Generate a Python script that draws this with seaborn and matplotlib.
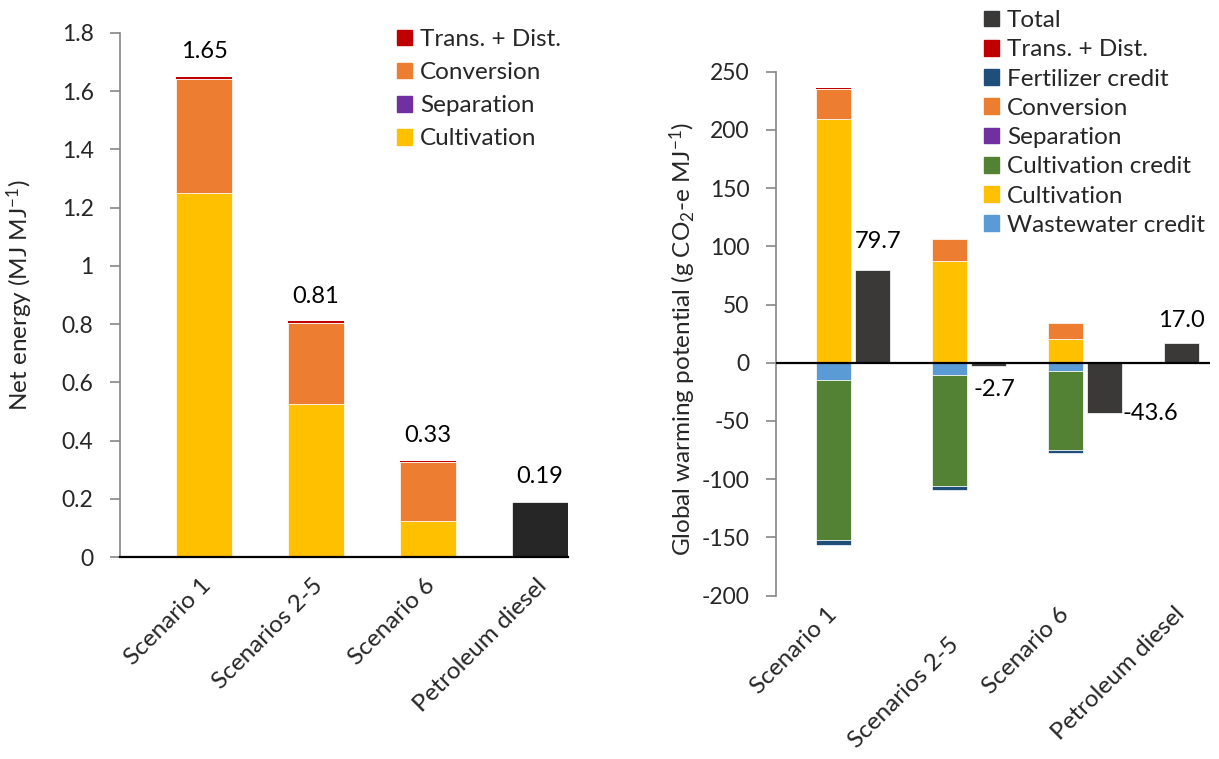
import numpy as np
import matplotlib
matplotlib.use("Agg")
import matplotlib.pyplot as plt
from matplotlib.patches import Patch
from matplotlib.ticker import FuncFormatter, MultipleLocator
import seaborn as sns

# ---- data ----
categories = ["Scenario 1", "Scenarios 2-5", "Scenario 6", "Petroleum diesel"]

# Net energy, MJ per MJ
ne_cultivation = [1.250, 0.525, 0.125, 0.0]
ne_separation = [0.0, 0.0, 0.0, 0.0]
ne_conversion = [0.392, 0.280, 0.200, 0.0]
ne_trans = [0.008, 0.005, 0.005, 0.0]
ne_diesel = [0.0, 0.0, 0.0, 0.19]

# Global warming potential, g CO2-e per MJ
gwp_cultivation = [209.5, 87.5, 20.5, 0.0]
gwp_separation = [0.0, 0.0, 0.0, 0.0]
gwp_conversion = [26.0, 18.5, 13.5, 0.0]
gwp_trans = [0.5, 0.5, 0.4, 0.0]
gwp_wastewater = [-15.0, -10.5, -7.5, 0.0]
gwp_cult_credit = [-137.0, -95.7, -67.5, 0.0]
gwp_fertilizer = [-4.3, -3.0, -3.0, 0.0]
gwp_total = [79.7, -2.7, -43.6, 17.0]

# ---- colours ----
C_TRANS = "#C00000"
C_CONV = "#ED7D31"
C_SEP = "#7030A0"
C_CULT = "#FFC000"
C_TOTAL_L = "#262626"
C_TOTAL_R = "#3B3838"
C_FERT = "#1F4E79"
C_CCRED = "#548235"
C_WW = "#5B9BD5"

sns.set_theme(style="white")
plt.rcParams["font.family"] = ["Lato", "DejaVu Sans"]
plt.rcParams["mathtext.fontset"] = "custom"
plt.rcParams["mathtext.rm"] = "Lato"
plt.rcParams["mathtext.it"] = "Lato:italic"
FS_YTICK = 16.5
FS_XTICK = 17.5
FS_LEG = 17.5
FS_VAL = 17
FS_LAB = 17.5

fig = plt.figure(figsize=(12.19, 7.59), dpi=100)
W, H = 1219, 759
axL = fig.add_axes([120 / W, (H - 557) / H, 448 / W, 524 / H])
axR = fig.add_axes([776 / W, (H - 595.5) / H, 434 / W, 523.8 / H])

edge = dict(edgecolor="white", linewidth=0.5)
no_edge = dict(linewidth=0)


def style_axis(ax):
    for s in ["top", "right"]:
        ax.spines[s].set_visible(False)
    ax.spines["left"].set_color("#868686")
    ax.spines["left"].set_linewidth(1.2)
    ax.tick_params(axis="y", which="major", direction="out", length=7,
                   width=1.2, color="#868686", pad=12, labelsize=FS_YTICK,
                   left=True)
    ax.tick_params(axis="x", length=0, labelsize=FS_XTICK)
    ax.grid(False)


def rotate_labels(ax):
    for lab in ax.get_xticklabels():
        lab.set_rotation(45)
        lab.set_ha("right")
        lab.set_va("center")
        lab.set_rotation_mode("anchor")


# ---- left: net energy ----
xL = np.arange(len(categories))
wL = 0.5
bottom = np.zeros(len(categories))
for vals, col, kw in [(ne_cultivation, C_CULT, edge), (ne_separation, C_SEP, no_edge),
                      (ne_conversion, C_CONV, edge), (ne_trans, C_TRANS, no_edge)]:
    v = np.asarray(vals)
    axL.bar(xL, v, wL, bottom=bottom, color=col, **kw)
    bottom = bottom + v
axL.bar(xL, ne_diesel, wL, color=C_TOTAL_L, **edge)
ne_tot = bottom + np.asarray(ne_diesel)
for x, t in zip(xL, ne_tot):
    axL.annotate(f"{t:.2f}", (x, t), xytext=(0, 25), textcoords="offset pixels",
                 ha="center", va="center", fontsize=FS_VAL, color="black")

axL.set_xlim(-0.75, 3.25)
axL.set_ylim(0, 1.8)
axL.yaxis.set_major_locator(MultipleLocator(0.2))
axL.yaxis.set_major_formatter(FuncFormatter(lambda v, p: f"{round(v, 2):g}"))
style_axis(axL)
axL.spines["bottom"].set_color("black")
axL.spines["bottom"].set_linewidth(1.6)
axL.set_ylabel("Net energy (MJ MJ$^{-1}$)", fontsize=FS_LAB)
axL.yaxis.set_label_coords(-0.19, 0.5)
axL.set_xticks(xL + 0.03)
axL.set_xticklabels(categories)
axL.tick_params(axis="x", pad=18)
rotate_labels(axL)

handlesL = [Patch(color=C_TRANS, label="Trans. + Dist."),
            Patch(color=C_CONV, label="Conversion"),
            Patch(color=C_SEP, label="Separation"),
            Patch(color=C_CULT, label="Cultivation")]
fig.legend(handles=handlesL, loc="upper left",
           bbox_to_anchor=(397 / W, 1 - 29 / H), frameon=False,
           fontsize=FS_LEG, handlelength=0.62, handleheight=0.62,
           handletextpad=0.32, labelspacing=0.5, borderaxespad=0,
           borderpad=0)

# ---- right: global warming potential ----
xR = np.arange(len(categories))
wR = 0.30
off = 0.168
xs = xR - off
pos_bottom = np.zeros(len(categories))
for vals, col, kw in [(gwp_cultivation, C_CULT, edge), (gwp_separation, C_SEP, no_edge),
                      (gwp_conversion, C_CONV, edge), (gwp_trans, C_TRANS, no_edge)]:
    v = np.asarray(vals)
    axR.bar(xs, v, wR, bottom=pos_bottom, color=col, **kw)
    pos_bottom = pos_bottom + v
neg_bottom = np.zeros(len(categories))
for vals, col in [(gwp_wastewater, C_WW), (gwp_cult_credit, C_CCRED),
                  (gwp_fertilizer, C_FERT)]:
    v = np.asarray(vals)
    axR.bar(xs, v, wR, bottom=neg_bottom, color=col, **edge)
    neg_bottom = neg_bottom + v

# net totals sit beside each scenario stack; diesel takes the stack slot
xt = np.where(np.arange(len(categories)) < 3, xR + off, xR - off)
axR.bar(xt, gwp_total, wR, color=C_TOTAL_R, **edge)
label_offsets = [(6, 28), (6, -24), (46, 0), (0, 22)]
for x, t, (dx, dy) in zip(xt, gwp_total, label_offsets):
    axR.annotate(f"{t:.1f}", (x, t), xytext=(dx, dy),
                 textcoords="offset pixels", ha="center", va="center",
                 fontsize=FS_VAL, color="black")

axR.axhline(0, color="black", linewidth=1.6, zorder=3)
axR.set_xlim(-0.664, 3.078)
axR.set_ylim(-200, 250)
axR.yaxis.set_major_locator(MultipleLocator(50))
axR.yaxis.set_major_formatter(FuncFormatter(lambda v, p: f"{int(round(v))}"))
style_axis(axR)
axR.spines["bottom"].set_visible(False)
axR.set_ylabel("Global warming potential (g CO$_2$-e MJ$^{-1}$)",
               fontsize=FS_LAB)
axR.yaxis.set_label_coords(-0.18, 0.49)
axR.set_xticks(xs + np.array([0.0, 0.05, 0.0, 0.0]))
axR.set_xticklabels(categories)
axR.tick_params(axis="x", pad=11)
# the second category name sits one step lower than the others
axR.xaxis.get_major_ticks()[1].set_pad(33)
rotate_labels(axR)

handlesR = [Patch(color=C_TOTAL_R, label="Total"),
            Patch(color=C_TRANS, label="Trans. + Dist."),
            Patch(color=C_FERT, label="Fertilizer credit"),
            Patch(color=C_CONV, label="Conversion"),
            Patch(color=C_SEP, label="Separation"),
            Patch(color=C_CCRED, label="Cultivation credit"),
            Patch(color=C_CULT, label="Cultivation"),
            Patch(color=C_WW, label="Wastewater credit")]
fig.legend(handles=handlesR, loc="upper left",
           bbox_to_anchor=(984 / W, 1 - 10 / H), frameon=False,
           fontsize=FS_LEG, handlelength=0.62, handleheight=0.62,
           handletextpad=0.32, labelspacing=0.34, borderaxespad=0,
           borderpad=0)

fig.savefig("out.png", dpi=100)
